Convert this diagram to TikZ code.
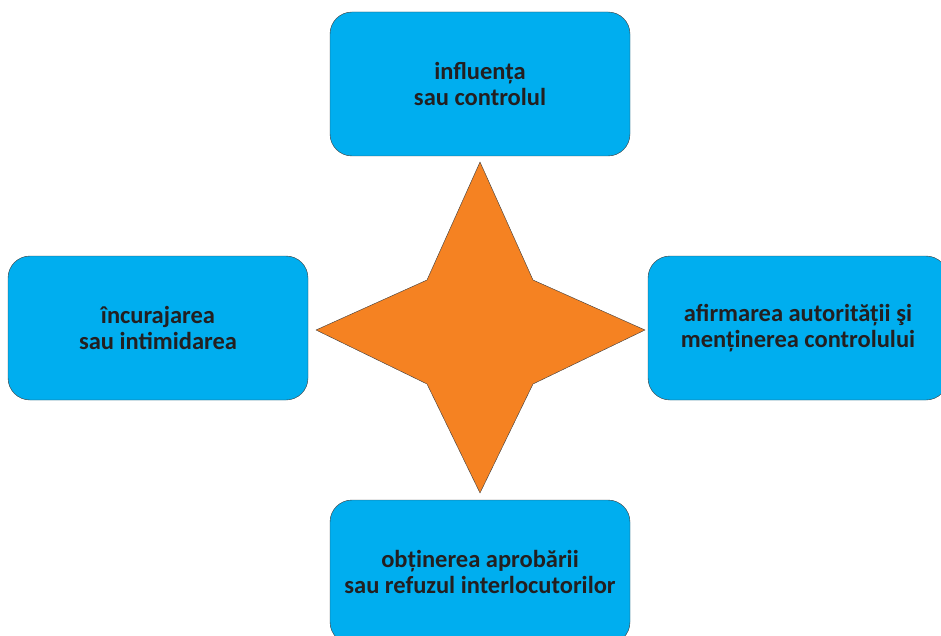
\documentclass[tikz,border=0pt]{standalone}
\usepackage{fontspec}
\setmainfont{Carlito}
\usetikzlibrary{positioning}
\definecolor{boxblue}{RGB}{0,174,239}
\definecolor{starorange}{RGB}{245,130,34}
\definecolor{edgegray}{RGB}{60,60,60}
\definecolor{textgray}{RGB}{35,31,32}

\begin{document}
\begin{tikzpicture}[x=1pt, y=-1pt,
    topic/.style={draw=edgegray, fill=boxblue, rounded corners=22pt,
        minimum width=300pt, minimum height=144pt, align=center,
        text=textgray, font=\fontsize{24.5}{26}\selectfont\bfseries}]
    \useasboundingbox (0, 0) rectangle (941, 636);
    \clip (0, 0) rectangle (941, 636);
    % the four boxes
    \node[topic] (control) at (480, 84) {influența\\sau controlul};
    \node[topic] (intimid) at (158, 328) {încurajarea\\sau intimidarea};
    \node[topic] (autorit) at (798, 328) {afirmarea autorității şi\\menținerea controlului};
    \node[topic] (aprob) at (480, 572) {obținerea aprobării\\sau refuzul interlocutorilor};
    % the star
    \draw[edgegray, fill=starorange, line join=miter]
        (480, 162) -- (533, 280) -- (645, 330) -- (533, 384)
        -- (480, 493) -- (427, 384) -- (316, 330) -- (427, 280) -- cycle;
\end{tikzpicture}
\end{document}
